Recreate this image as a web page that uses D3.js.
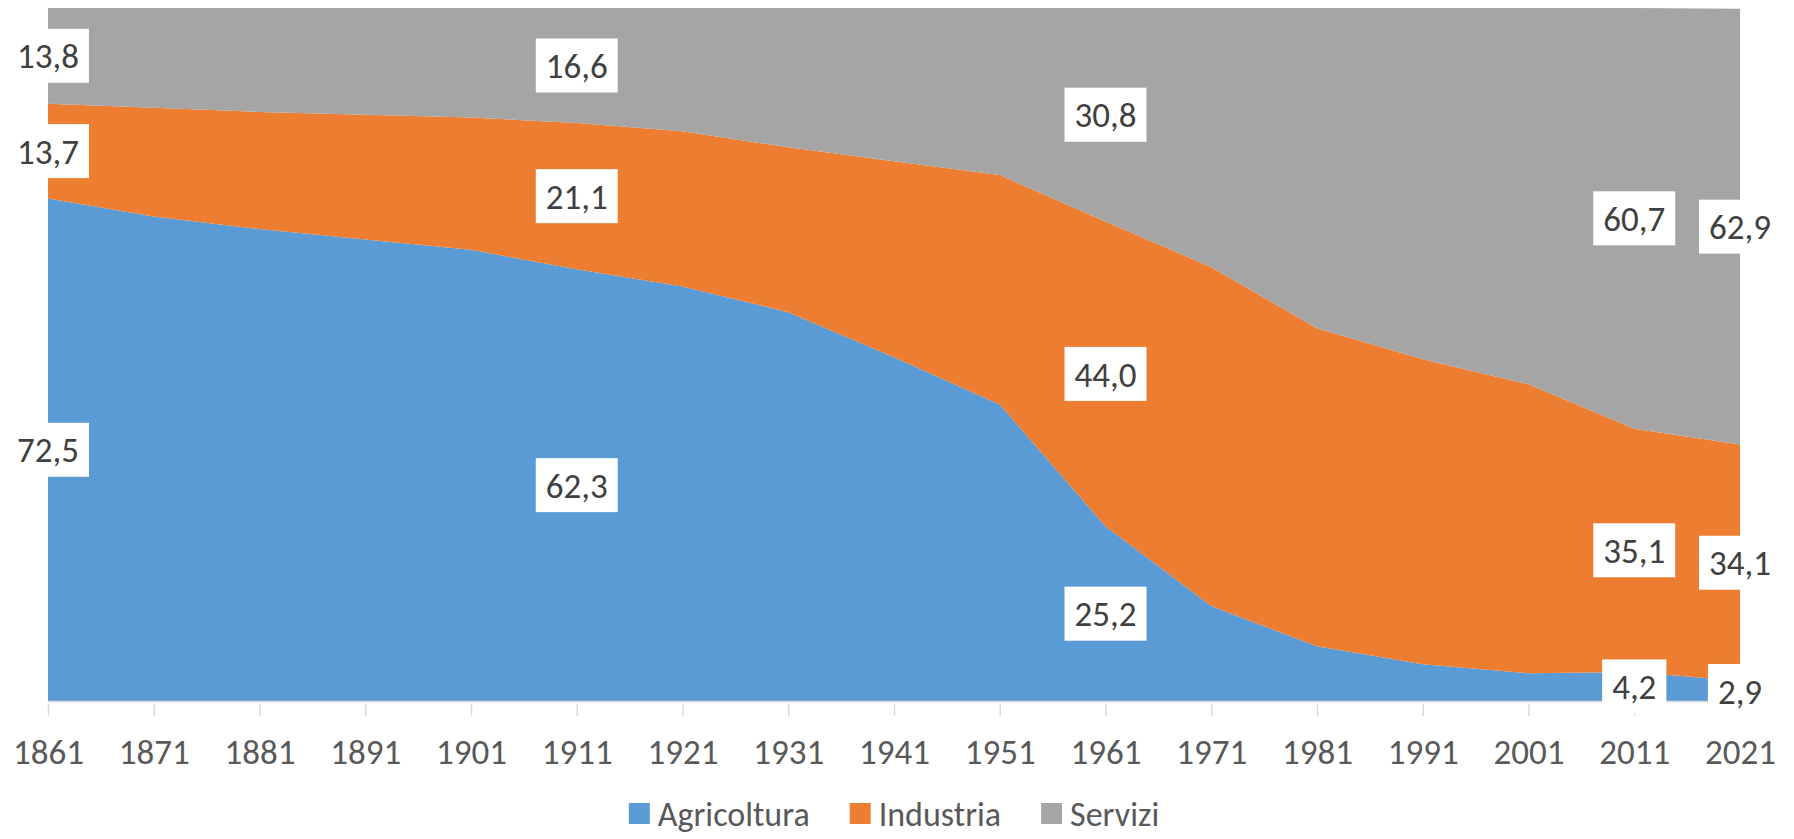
<!DOCTYPE html>
<html>
<head>
<meta charset="utf-8">
<script src="https://cdn.jsdelivr.net/npm/d3@7"></script>
<style>
  body { margin: 0; background: #fff; }
  svg text { font-family: Calibri, Carlito, "Open Sans", sans-serif; }
</style>
</head>
<body>
<div id="chart"></div>
<script>
// data: share of workers by sector (%), census years
var years = [1861, 1871, 1881, 1891, 1901, 1911, 1921, 1931, 1941, 1951, 1961, 1971, 1981, 1991, 2001, 2011, 2021];
var agricoltura = [72.5, 69.9, 68.1, 66.6, 65.1, 62.3, 59.8, 56.1, 49.6, 42.8, 25.2, 13.7, 7.9, 5.3, 4.0, 4.2, 2.9];
var industria   = [13.7, 15.7, 16.9, 18.0, 19.1, 21.1, 22.4, 23.8, 28.3, 33.1, 44.0, 48.9, 45.9, 44.0, 41.7, 35.1, 34.1];
var servizi     = [13.8, 14.4, 15.0, 15.4, 15.8, 16.6, 17.8, 20.1, 22.1, 24.1, 30.8, 37.4, 46.2, 50.7, 54.3, 60.7, 62.9];
var seriesNames = ["Agricoltura", "Industria", "Servizi"];
var labelledYears = [1861, 1911, 1961, 2011, 2021];

var colors = {"Agricoltura": "#5B9BD5", "Industria": "#ED7D31", "Servizi": "#A5A5A5"};

var W = 1794, H = 839;
var margin = {top: 8, right: 54, bottom: 138, left: 48},
    width = W - margin.left - margin.right,
    height = H - margin.top - margin.bottom;

// build rows for the stack
var rows = years.map(function(yr, i) {
  return {year: yr, "Agricoltura": agricoltura[i], "Industria": industria[i], "Servizi": servizi[i]};
});

var x = d3.scalePoint().domain(years).range([0, width]).padding(0);
var y = d3.scaleLinear().domain([0, 100]).range([height, 0]);

var stack = d3.stack().keys(seriesNames);
var layers = stack(rows);

var svg = d3.select("#chart").append("svg")
    .attr("width", W)
    .attr("height", H)
  .append("g")
    .attr("transform", "translate(" + margin.left + "," + margin.top + ")");

var area = d3.area()
    .x(function(d) { return x(d.data.year); })
    .y0(function(d) { return y(d[0]); })
    .y1(function(d) { return y(d[1]); });

svg.selectAll(".layer")
    .data(layers)
  .enter().append("path")
    .attr("class", "layer")
    .attr("fill", function(d) { return colors[d.key]; })
    .attr("d", area);

// x axis
var xAxis = svg.append("g")
    .attr("transform", "translate(0," + height + ")")
    .call(d3.axisBottom(x).tickSizeInner(15).tickSizeOuter(0).tickPadding(0));

xAxis.select(".domain").attr("stroke", "#d9d9d9").attr("stroke-width", 1.5);
xAxis.selectAll(".tick line").attr("stroke", "#d9d9d9").attr("stroke-width", 1.5).attr("y1", 3);
xAxis.selectAll(".tick text")
    .attr("y", 51)
    .attr("dy", "0.35em")
    .attr("fill", "#595959")
    .style("font-size", "35px");

// data labels
var fmt = function(v) { return d3.format(".1f")(v).replace(".", ","); };

layers.forEach(function(layer) {
  layer.forEach(function(d) {
    if (labelledYears.indexOf(d.data.year) < 0) return;
    var cx = x(d.data.year),
        cy = y((d[0] + d[1]) / 2);
    var g = svg.append("g").attr("class", "dlabel");
    var rect = g.append("rect").attr("fill", "#fff");
    var t = g.append("text")
        .attr("x", cx)
        .attr("y", cy)
        .attr("dy", "0.36em")
        .attr("text-anchor", "middle")
        .attr("fill", "#404040")
        .style("font-size", "35px")
        .text(fmt(d.data[layer.key]));
    var tw = t.node().getComputedTextLength();
    rect.attr("x", cx - tw / 2 - 10)
        .attr("y", cy - 27)
        .attr("width", tw + 20)
        .attr("height", 54);
  });
});

// legend, centred under the plot
var legend = svg.append("g");
var pos = 0;
seriesNames.forEach(function(name, i) {
  var item = legend.append("g");
  item.append("rect")
      .attr("x", 0).attr("y", -11)
      .attr("width", 21).attr("height", 21)
      .attr("fill", colors[name]);
  var t = item.append("text")
      .attr("x", 29)
      .attr("y", 0)
      .attr("dy", "0.35em")
      .attr("fill", "#595959")
      .style("font-size", "34px")
      .text(name);
  var w = 29 + t.node().getComputedTextLength();
  item.attr("transform", "translate(" + pos + ",0)");
  pos += w + 40;
});
var totalW = pos - 40;
legend.attr("transform", "translate(" + (width / 2 - totalW / 2) + "," + (814 - margin.top) + ")");
</script>
</body>
</html>
